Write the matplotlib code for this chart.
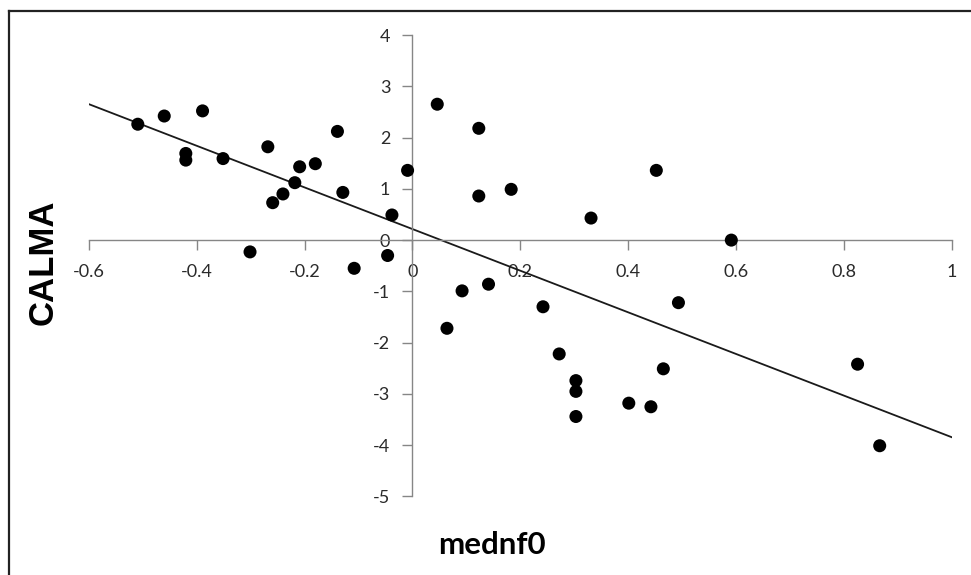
import numpy as np
import matplotlib
matplotlib.use("Agg")
import matplotlib.pyplot as plt
from matplotlib.lines import Line2D

# ---- data ----
medn_f0 = [-0.509, -0.460, -0.389, -0.420, -0.420, -0.351, -0.268, -0.259, -0.240,
           -0.218, -0.209, -0.180, -0.139, -0.129, -0.038, -0.009, -0.301, -0.046,
           -0.108, 0.046, 0.123, 0.123, 0.183, 0.331, 0.452, 0.591, 0.064, 0.092,
           0.141, 0.242, 0.272, 0.303, 0.303, 0.303, 0.401, 0.442, 0.465, 0.493,
           0.825, 0.866]
calma = [2.26, 2.42, 2.52, 1.69, 1.56, 1.59, 1.82, 0.73, 0.90,
         1.12, 1.43, 1.49, 2.12, 0.93, 0.49, 1.36, -0.23, -0.30,
         -0.55, 2.65, 2.18, 0.86, 0.99, 0.43, 1.36, 0.00, -1.72, -0.99,
         -0.86, -1.30, -2.22, -2.74, -2.95, -3.44, -3.18, -3.25, -2.51, -1.22,
         -2.42, -4.01]
x_ticks = [-0.6, -0.4, -0.2, 0, 0.2, 0.4, 0.6, 0.8, 1]
x_tick_labels = ["-0.6", "-0.4", "-0.2", "0", "0.2", "0.4", "0.6", "0.8", "1"]
y_ticks = [-5, -4, -3, -2, -1, 0, 1, 2, 3, 4]
y_tick_labels = ["-5", "-4", "-3", "-2", "-1", "0", "1", "2", "3", "4"]
x_label = "mednf0"
y_label = "CALMA"

W, H = 971, 575
fig = plt.figure(figsize=(W / 100, H / 100), dpi=100)
fig.patch.set_facecolor("white")

ax = fig.add_axes([88.7 / W, 1 - 496.5 / H, (952 - 88.7) / W, (496.5 - 35) / H])
ax.set_xlim(-0.6, 1.0)
ax.set_ylim(-5, 4)

# trend line (least squares, drawn across the full x range)
slope, intercept = np.polyfit(medn_f0, calma, 1)
xs = np.array([-0.6, 1.0])
ax.plot(xs, slope * xs + intercept, color="#1a1a1a", lw=1.3, zorder=2)

ax.scatter(medn_f0, calma, s=88, color="black", edgecolors="none", zorder=3)

axis_col = "#868686"
for side in ("top", "right"):
    ax.spines[side].set_visible(False)
ax.spines["left"].set_position(("data", 0))
ax.spines["bottom"].set_position(("data", 0))
for side in ("left", "bottom"):
    ax.spines[side].set_color(axis_col)
    ax.spines[side].set_linewidth(1.0)

tick_font = dict(family="Lato", size=13, color="#2a2a2a")
ax.set_xticks(x_ticks)
ax.set_xticklabels(x_tick_labels, fontdict=tick_font)
ax.set_yticks(y_ticks)
ax.set_yticklabels(y_tick_labels, fontdict=tick_font)
ax.tick_params(axis="x", direction="out", length=7, width=1, color=axis_col, pad=10)
ax.tick_params(axis="y", direction="out", length=7, width=1, color=axis_col, pad=9)
ax.patch.set_alpha(0)

fig.text(492 / W, 1 - 545 / H, x_label, ha="center", va="center",
         fontsize=22.5, fontweight="bold", family="Lato", color="black")
fig.text(43 / W, 1 - 262 / H, y_label, ha="center", va="center", rotation=90,
         fontsize=25, fontweight="bold", family="Liberation Sans", color="black")

# chart-area border (top and left visible)
fig.add_artist(Line2D([9 / W, 1.0], [1 - 11 / H, 1 - 11 / H], color="#222222", lw=1.6,
                      transform=fig.transFigure))
fig.add_artist(Line2D([9 / W, 9 / W], [0.0, 1 - 11 / H], color="#222222", lw=1.6,
                      transform=fig.transFigure))

fig.savefig("out.png", dpi=100)
